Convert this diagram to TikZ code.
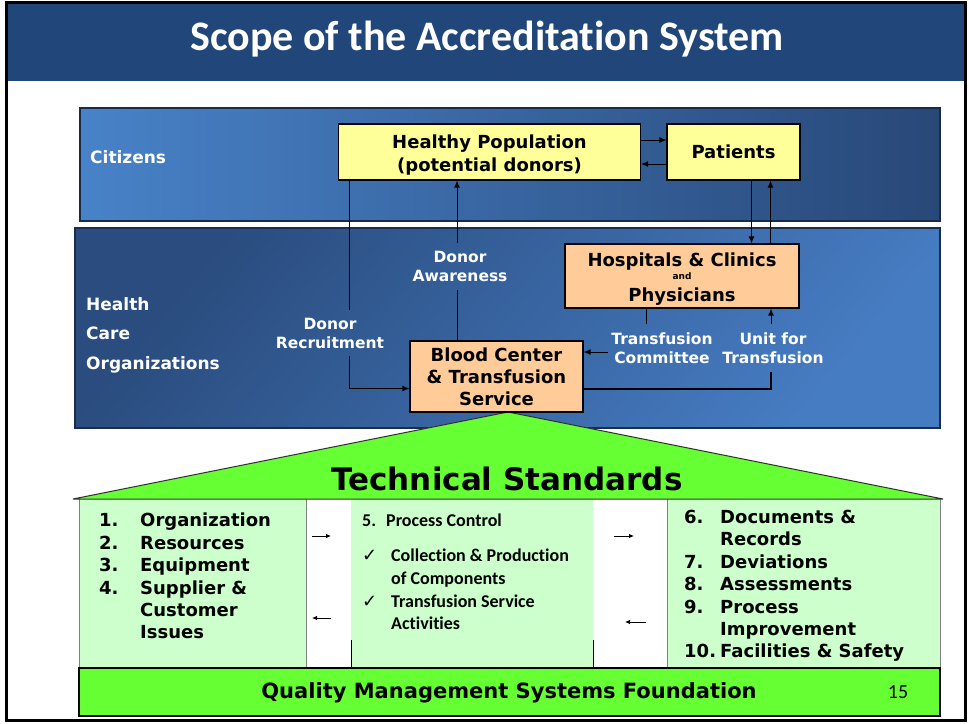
\documentclass[tikz,border=0pt]{standalone}
\usepackage{fontspec}
\setmainfont{DejaVu Sans}
\newfontfamily\calibri[Ligatures=NoCommon]{Carlito}
\newfontfamily\dejavu{DejaVu Sans}
\usepackage{tikz}
\usetikzlibrary{arrows.meta}

\definecolor{titleblue}{RGB}{32,70,122}
\definecolor{citlight}{RGB}{72,130,200}
\definecolor{citdark}{RGB}{40,72,120}
\definecolor{hcodark}{RGB}{42,76,126}
\definecolor{hcolight}{RGB}{70,124,194}
\definecolor{popyellow}{RGB}{255,255,153}
\definecolor{orgpeach}{RGB}{255,204,153}
\definecolor{roofgreen}{RGB}{102,255,51}
\definecolor{palegreen}{RGB}{204,255,204}

\tikzset{
  arr/.style={-{Latex[length=7pt,width=6pt]}, line width=0.9pt},
  gaparr/.style={-{Latex[length=5pt,width=4.5pt]}, line width=0.8pt},
  popbox/.style={draw=black, line width=1.2pt, fill=popyellow, align=center,
    font=\bfseries\fontsize{18}{23}\selectfont},
  orgbox/.style={draw=black, line width=1.2pt, fill=orgpeach, align=center,
    font=\bfseries\fontsize{18}{22}\selectfont},
  bandlabel/.style={text=white, align=left, font=\bfseries\fontsize{17}{29.5}\selectfont},
  linklabel/.style={text=white, inner xsep=3pt, inner ysep=8pt, align=center,
    font=\bfseries\fontsize{15.5}{19}\selectfont},
  listtext/.style={align=left, font=\bfseries\fontsize{18}{22.4}\selectfont},
  midtext/.style={align=left, font=\calibri\bfseries\fontsize{18}{22.7}\selectfont},
}

\begin{document}
\begin{tikzpicture}[x=1pt,y=1pt]
		\tikzstyle{every node}+=[inner sep=0pt]
		\useasboundingbox (0,0) rectangle (969,-723);
		% title
		\fill [titleblue] (5,-3) rectangle (965,-81);
		\node [text=white, font=\calibri\bfseries\fontsize{42}{46}\selectfont] (title) at (487,-39) {Scope of the Accreditation System};
		\draw [black, line width=3pt] (6,-2) rectangle (965,-720);
		% bands
		\draw [draw=citdark!60!black, line width=1.2pt, left color=citlight, right color=citdark] (80,-108) rectangle (940,-221);
		\draw [draw=hcodark!60!black, line width=1.2pt, top color=hcodark, bottom color=hcolight, shading angle=50] (75,-228) rectangle (940,-428);
		\node [bandlabel, anchor=west] (citizens) at (90,-157) {Citizens};
		\node [bandlabel, anchor=west] (hco) at (86,-335) {Health\\Care\\Organizations};
		% house
		\fill [palegreen] (79,-499) rectangle (940,-668);
		\fill [white] (306,-499) rectangle (351,-668);
		\fill [white] (593,-499) rectangle (667,-668);
		\draw [gray, line width=1pt] (79,-499) -- (79,-668);
		\draw [gray, line width=1pt] (306,-499) -- (306,-668);
		\draw [gray, line width=1pt] (667,-499) -- (667,-668);
		\draw [gray, line width=1pt] (940,-499) -- (940,-668);
		\draw [black, line width=0.8pt] (351,-640) -- (351,-668);
		\draw [black, line width=0.8pt] (593,-640) -- (593,-668);
		\filldraw [fill=roofgreen, draw=black!80, line width=1pt] (73,-499) -- (508,-412) -- (943,-499) -- cycle;
		\node [font=\bfseries\fontsize{31}{34}\selectfont] (tech) at (507,-479) {Technical Standards};
		\filldraw [fill=roofgreen, draw=black, line width=1.2pt] (79,-668) rectangle (940,-716);
		\node [font=\bfseries\fontsize{21}{24}\selectfont] (qms) at (509,-693) {Quality Management Systems Foundation};
		\node [font=\calibri\fontsize{20}{22}\selectfont] (page) at (898,-692) {15};
		% boxes
		\node [popbox, minimum width=302pt, minimum height=56pt] (hp) at (489.5,-152) {\rule{0pt}{19pt}Healthy Population\\(potential donors)};
		\node [popbox, minimum width=133pt, minimum height=56pt] (pat) at (733.5,-152) {Patients};
		\node [orgbox, minimum width=234pt, minimum height=64pt] (hc) at (682,-276) {\rule{0pt}{19pt}Hospitals \& Clinics\\[-9pt]{\fontsize{9}{11}\selectfont and}\\Physicians};
		\node [orgbox, minimum width=173pt, minimum height=71pt] (bc) at (496.5,-376.5) {Blood Center\\\& Transfusion\\Service};
		% link labels
		\node [linklabel] (dr) at (330,-333) {Donor\\Recruitment};
		\node [linklabel] (da) at (460,-266.5) {Donor\\Awareness};
		\node [linklabel] (tc) at (662,-348) {Transfusion\\Committee};
		\node [linklabel] (uf) at (773,-348) {Unit for\\Transfusion};
		% connectors
		\coordinate (hpout) at ([yshift=12pt]hp.east);
		\coordinate (hpin) at ([yshift=-12pt]hp.east);
		\draw [arr] (hpout) -- (hpout -| pat.west);
		\draw [arr] (hpin -| pat.west) -- (hpin);
		\coordinate (patdown) at ([xshift=18pt]pat.south);
		\coordinate (patup) at ([xshift=37pt]pat.south);
		\draw [arr] (patdown) -- (patdown |- hc.north);
		\draw [arr] (patup |- hc.north) -- (patup);
		\coordinate (drx) at (349.5,0);
		\coordinate (bcin) at ([yshift=-12pt]bc.west);
		\draw [line width=0.9pt] (hp.south -| drx) -- (dr.north -| drx);
		\draw [arr] (dr.south -| drx) |- (bcin);
		\coordinate (dax) at (457,0);
		\draw [line width=0.9pt] (bc.north -| dax) -- (da.south -| dax);
		\draw [arr] (da.north -| dax) -- (hp.south -| dax);
		\coordinate (tcx) at (646,0);
		\coordinate (bcfeed) at ([yshift=-4pt]tc.west);
		\draw [line width=0.9pt] (hc.south -| tcx) -- (tc.north -| tcx);
		\draw [arr] (bcfeed) -- (bcfeed -| bc.east);
		\coordinate (ufx) at (771,0);
		\coordinate (bcout) at ([yshift=-12pt]bc.east);
		\draw [line width=2pt] (bcout) -| (uf.south -| ufx);
		\draw [arr] (uf.north -| ufx) -- (hc.south -| ufx);
		% columns
		\node [listtext, anchor=north west] (leftlist) at (99,-513) {\makebox[41pt][l]{1.}Organization\\\makebox[41pt][l]{2.}Resources\\\makebox[41pt][l]{3.}Equipment\\\makebox[41pt][l]{4.}Supplier \&\\\hspace*{41pt}Customer\\\hspace*{41pt}Issues};
		\node [midtext, anchor=north west] (pc) at (362,-514) {\makebox[24pt][l]{5.}Process Control};
		\node [midtext, anchor=north west] (midlist) at (362,-549) {\makebox[29pt][l]{\dejavu\mdseries ✓}Collection \& Production\\\hspace*{29pt}of Components\\\makebox[29pt][l]{\dejavu\mdseries ✓}Transfusion Service\\\hspace*{29pt}Activities};
		\node [listtext, anchor=north west] (rightlist) at (684,-510) {\makebox[36pt][l]{6.}Documents \&\\\hspace*{36pt}Records\\\makebox[36pt][l]{7.}Deviations\\\makebox[36pt][l]{8.}Assessments\\\makebox[36pt][l]{9.}Process\\\hspace*{36pt}Improvement\\\makebox[36pt][l]{10.}Facilities \& Safety};
		% gap arrows
		\coordinate (lgA) at (312,-536);
		\coordinate (lgB) at (331,-536);
		\coordinate (lgC) at (331,-618);
		\coordinate (lgD) at (312,-618);
		\coordinate (rgA) at (614,-536);
		\coordinate (rgB) at (634,-536);
		\coordinate (rgC) at (646,-622);
		\coordinate (rgD) at (625,-622);
		\draw [gaparr] (lgA) -- (lgB);
		\draw [gaparr] (lgC) -- (lgD);
		\draw [gaparr] (rgA) -- (rgB);
		\draw [gaparr] (rgC) -- (rgD);
		\end{tikzpicture}
\end{document}
